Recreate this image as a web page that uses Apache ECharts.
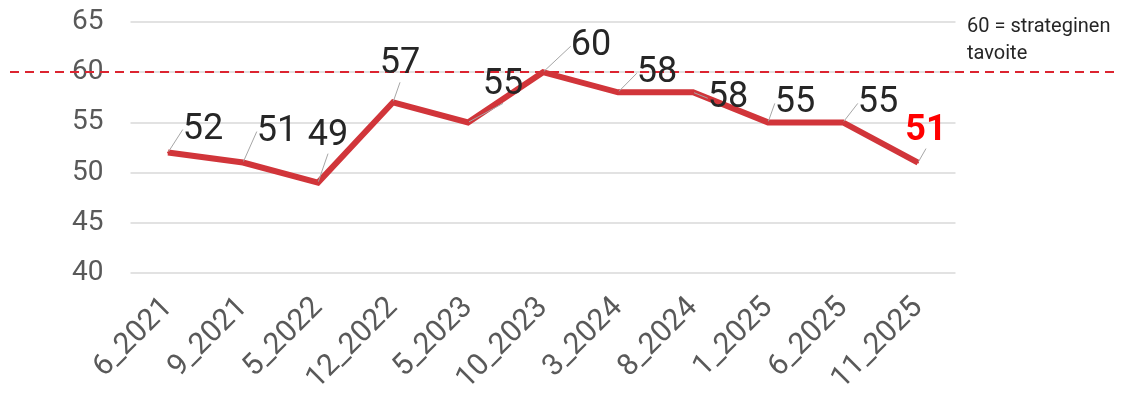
<!DOCTYPE html>
<html>
<head>
<meta charset="utf-8">
<script src="https://cdn.jsdelivr.net/npm/echarts@6/dist/echarts.min.js"></script>
<style>
  html, body { margin: 0; padding: 0; background: #fff; }
  #chart { width: 1131px; height: 396px; }
</style>
</head>
<body>
<div id="chart"></div>
<script>
    // mittaukset
    const categories = ['6_2021', '9_2021', '5_2022', '12_2022', '5_2023', '10_2023', '3_2024', '8_2024', '1_2025', '6_2025', '11_2025']
    const values = [52, 51, 49, 57, 55, 60, 58, 58, 55, 55, 51]
    const target = 60
    const targetText = '60 = strateginen\ntavoite'

    // label nudges (dx, dy) from the default 'top' spot
    const labelShift = [
        [35, 1], [34, -7], [10, -23], [7, -14], [35, -13], [48, -2],
        [39, 5], [35, 30], [27, 5], [35, 5], [8, -8]
    ]

    const last = values.length - 1
    let datas = values.map(function (v, i) {
        if (i === last) {
            return {value: v, label: {color: '#ff0000', fontWeight: 'bold'}}
        }
        return v
    })

    let chart = echarts.init(document.getElementById('chart'))
    let option = {
        backgroundColor: '#fff',
        animation: false,
        title: {
            text: targetText,
            left: 967,
            top: 13,
            padding: 0,
            textStyle: {
                fontFamily: 'Roboto',
                fontSize: 20,
                lineHeight: 27,
                fontWeight: 'normal',
                color: '#262626'
            }
        },
        grid: [{
            left: 130.5,
            right: 175.5,
            top: 22,
            bottom: 123,
            containLabel: false,
            outerBoundsMode: 'none'
        }, {
            left: 10,
            right: 16,
            top: 22,
            bottom: 123,
            containLabel: false,
            outerBoundsMode: 'none'
        }],
        xAxis: [{
            type: 'category',
            gridIndex: 0,
            data: categories,
            axisLine: {show: false},
            axisTick: {show: false},
            axisLabel: {
                rotate: 45,
                margin: 30,
                fontFamily: 'Roboto',
                fontSize: 30,
                color: '#595959'
            }
        }, {
            type: 'category',
            gridIndex: 1,
            data: categories,
            show: false
        }],
        yAxis: [{
            type: 'value',
            gridIndex: 0,
            min: 40,
            max: 65,
            interval: 5,
            axisLabel: {
                margin: 27,
                fontFamily: 'Roboto',
                fontSize: 28,
                color: '#595959'
            },
            splitLine: {lineStyle: {color: '#d9d9d9', width: 1.5}}
        }, {
            type: 'value',
            gridIndex: 1,
            min: 40,
            max: 65,
            show: false
        }],
        series: [{
            type: 'line',
            xAxisIndex: 1,
            yAxisIndex: 1,
            data: [],
            silent: true,
            markLine: {
                symbol: 'none',
                silent: true,
                label: {show: false},
                lineStyle: {color: '#dc2430', width: 2, type: [9, 6]},
                data: [{yAxis: target}]
            }
        }, {
            type: 'line',
            xAxisIndex: 0,
            yAxisIndex: 0,
            data: datas,
            showSymbol: true,
            symbol: 'circle',
            symbolSize: 2,
            z: 5,
            itemStyle: {color: '#d1353a'},
            lineStyle: {color: '#d1353a', width: 6, join: 'miter'},
            label: {
                show: true,
                position: 'top',
                distance: 5,
                fontFamily: 'Roboto',
                fontSize: 36,
                color: '#262626'
            },
            labelLine: {
                show: true,
                lineStyle: {color: '#a6a6a6', width: 1}
            },
            labelLayout: function (params) {
                let s = labelShift[params.dataIndex]
                return {dx: s[0], dy: s[1]}
            }
        }]
    }
    chart.setOption(option, true)
</script>
</body>
</html>
